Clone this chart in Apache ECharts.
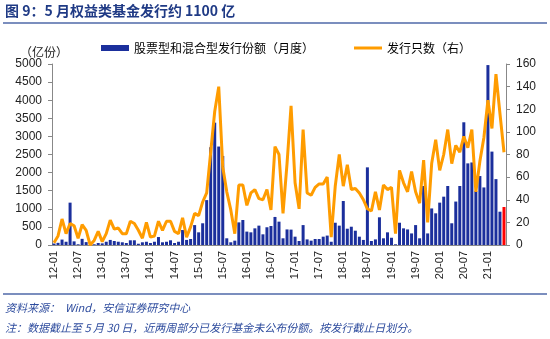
<!DOCTYPE html>
<html>
<head>
<meta charset="utf-8">
<script src="https://cdn.jsdelivr.net/npm/echarts@6/dist/echarts.min.js"></script>
<style>
html,body{margin:0;padding:0;background:#fff;}
#chart{width:550px;height:339px;}
</style>
</head>
<body>
<div id="chart"></div>
<script>
// Monthly labels 2012-01 .. 2021-05
const months = [];
for (let y = 12; y <= 21; y++) {
  for (let m = 1; m <= 12; m++) {
    if (y === 21 && m > 5) break;
    months.push(y + '-' + (m < 10 ? '0' + m : m));
  }
}

// 股票型和混合型发行份额（亿份，月度）
const shares = [
  40, 60, 150, 90, 1170, 100, 20, 170, 80, 0, 20, 55,
  45, 90, 140, 110, 90, 75, 55, 130, 130, 35, 75, 90,
  55, 90, 220, 75, 90, 130, 55, 90, 415, 140, 165, 550,
  350, 600, 1240, 2700, 3380, 2720, 2460, 185, 75, 120, 625, 690,
  370, 350, 460, 535, 295, 490, 525, 775, 645, 185, 430, 425,
  230, 110, 550, 155, 120, 165, 165, 230, 260, 90, 615, 535,
  1215, 450, 505, 395, 230, 140, 2145, 110, 155, 765, 185, 350,
  200, 20, 615, 460, 430, 320, 550, 185, 1630, 320, 1010, 875,
  1170, 1335, 1630, 600, 1200, 1630, 3390, 2255, 2280, 1490, 1905, 1590,
  4970, 2580, 1820, 920, 1050
];

// 发行只数（右轴）
const counts = [
  2, 8, 23, 10, 19, 17, 6, 18, 13, 0, 4, 12,
  3, 10, 22, 14, 15, 10, 10, 21, 19, 13, 6, 20,
  7, 8, 21, 13, 21, 21, 12, 10, 24, 7, 16, 28,
  26, 38, 46, 82, 118, 140, 69, 47, 31, 10, 53, 53,
  35, 46, 49, 41, 40, 49, 31, 87, 80, 28, 72, 123,
  55, 32, 102, 46, 44, 51, 54, 54, 60, 7, 52, 80,
  52, 71, 49, 50, 46, 40, 32, 30, 47, 31, 53, 49,
  51, 10, 66, 55, 47, 65, 47, 37, 75, 20, 72, 93,
  66, 80, 102, 72, 88, 82, 96, 86, 102, 47, 74, 95,
  128, 103, 151, 116, 82
];

const BLUE = '#1B2F9C';
const ORANGE = '#FF9C00';
const RED = '#FF0000';
const NAVY = '#1F3A85';
const NOTE = '#2E4C9E';
const FONT = '"Liberation Sans", Arial, "Noto Sans CJK SC", sans-serif';
const CJK = '"Noto Sans CJK SC", "Liberation Sans", sans-serif';

// the latest month is highlighted in red
const barData = shares.map((v, i) =>
  i === shares.length - 1 ? { value: v, itemStyle: { color: RED } } : v);

const plain = v => String(v);

const chart = echarts.init(document.getElementById('chart'));
chart.setOption({
  animation: false,
  backgroundColor: '#fff',
  textStyle: { fontFamily: FONT },
  grid: { left: 52, right: 44, top: 64, bottom: 94 },
  legend: {
    left: 96, top: 37,
    itemWidth: 28, itemHeight: 6, itemGap: 40,
    symbolKeepAspect: true,
    textStyle: { fontSize: 12, color: '#000', fontFamily: CJK },
    data: [
      { name: '股票型和混合型发行份额（月度）', icon: 'rect' },
      { name: '发行只数（右）', icon: 'path://M0,0 L28,0 L28,3 L0,3 Z' }
    ]
  },
  xAxis: {
    type: 'category',
    data: months,
    boundaryGap: true,
    axisLine: { lineStyle: { color: '#888', width: 1 } },
    axisTick: { show: false },
    axisLabel: {
      interval: 5, rotate: 90, fontSize: 11, color: '#222', margin: 6,
      fontFamily: FONT
    }
  },
  yAxis: [
    {
      type: 'value', min: 0, max: 5000, interval: 500,
      splitLine: { show: false },
      axisLine: { show: true, lineStyle: { color: '#888' } },
      axisTick: { show: true, inside: false, length: 4, lineStyle: { color: '#888' } },
      axisLabel: { fontSize: 12, color: '#222', margin: 10, formatter: plain }
    },
    {
      type: 'value', min: 0, max: 160, interval: 20,
      splitLine: { show: false },
      axisLine: { show: true, lineStyle: { color: '#888' } },
      axisTick: { show: true, inside: false, length: 4, lineStyle: { color: '#888' } },
      axisLabel: { fontSize: 12, color: '#222', margin: 10, formatter: plain }
    }
  ],
  series: [
    {
      name: '股票型和混合型发行份额（月度）',
      type: 'bar',
      yAxisIndex: 0,
      data: barData,
      barWidth: 3,
      itemStyle: { color: BLUE }
    },
    {
      name: '发行只数（右）',
      type: 'line',
      yAxisIndex: 1,
      data: counts,
      symbol: 'none',
      smooth: false,
      lineStyle: { color: ORANGE, width: 3 },
      itemStyle: { color: ORANGE },
      z: 3
    }
  ],
  graphic: [
    {
      type: 'text', left: 5, top: 4,
      style: {
        text: '图 9：5 月权益类基金发行约 1100 亿',
        font: 'bold 14px ' + CJK, fill: NAVY
      }
    },
    {
      type: 'line',
      shape: { x1: 3, y1: 23, x2: 547, y2: 23 },
      style: { stroke: '#4F68A8', lineWidth: 1.5 }
    },
    {
      type: 'text', left: 20, top: 46,
      style: { text: '（亿份）', font: '12px ' + CJK, fill: '#222' }
    },
    {
      type: 'line',
      shape: { x1: 3, y1: 294, x2: 547, y2: 294 },
      style: { stroke: '#4F68A8', lineWidth: 1.5 }
    },
    {
      type: 'text', left: 5, top: 302,
      style: {
        text: '资料来源：  Wind，安信证券研究中心',
        font: 'italic 11px ' + CJK, fill: NOTE
      }
    },
    {
      type: 'text', left: 5, top: 322,
      style: {
        text: '注：数据截止至 5 月 30 日，近两周部分已发行基金未公布份额。按发行截止日划分。',
        font: 'italic 11px ' + CJK, fill: NOTE
      }
    }
  ]
});
</script>
</body>
</html>
